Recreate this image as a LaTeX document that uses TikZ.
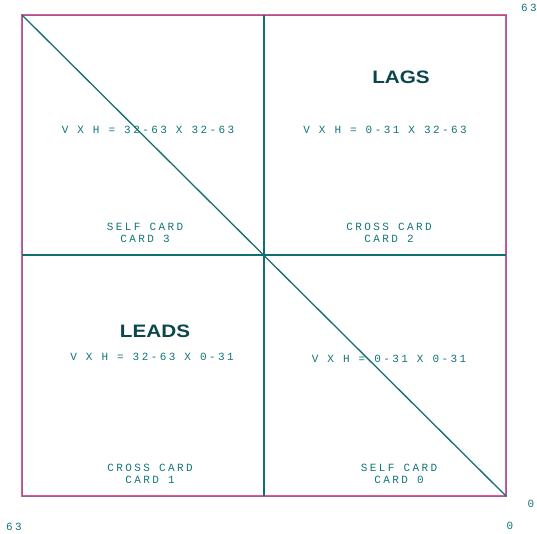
\documentclass[tikz,border=0pt]{standalone}
\usepackage{fontspec}
\setmainfont{Liberation Sans}
\newfontfamily\monof[LetterSpace=22]{Liberation Mono}
\definecolor{tl}{RGB}{20,130,135}
\definecolor{pk}{RGB}{235,90,130}
\definecolor{dk}{RGB}{10,70,75}
\definecolor{fr}{RGB}{150,90,160}
\begin{document}
\begin{tikzpicture}[x=1pt,y=-1pt,
  lbl/.style={font=\monof\fontsize{11}{12.5}\selectfont, text=tl!90!black, inner sep=0pt, align=center},
  big/.style={font=\bfseries\fontsize{18}{20}\selectfont, text=dk, inner sep=0pt, xscale=1.15},
  frame/.style={draw=pk, line width=1.8pt},
  inner/.style={draw=tl!85!black, line width=1.3pt}]
\useasboundingbox (0,0) rectangle (537,533);
\coordinate (tl) at (22,15);
\coordinate (tr) at (506,15);
\coordinate (bl) at (22,496);
\coordinate (br) at (506,496);
\coordinate (tm) at (264,15);
\coordinate (bm) at (264,496);
\coordinate (lm) at (22,255);
\coordinate (rm) at (506,255);
\draw[frame] (tl) rectangle (br);
\draw[draw=fr, line width=0.5pt] (tl) rectangle (br);
\draw[inner] (tm) -- (bm);
\draw[inner] (lm) -- (rm);
\draw[inner] (tl) -- (br);
\node[big] (lags) at (401,77) {LAGS};
\node[big] (leads) at (155,331) {LEADS};
\node[lbl] (q3) at (148,130) {V X H = 32-63 X 32-63};
\node[lbl] (q2) at (385,130) {V X H = 0-31 X 32-63};
\node[lbl] (q1) at (152,357) {V X H = 32-63 X 0-31};
\node[lbl] (q0) at (389,359) {V X H = 0-31 X 0-31};
\node[lbl] (c3) at (145,233) {SELF CARD\\CARD 3};
\node[lbl] (c2) at (389,233) {CROSS CARD\\CARD 2};
\node[lbl] (c1) at (150,474) {CROSS CARD\\CARD 1};
\node[lbl] (c0) at (399,474) {SELF CARD\\CARD 0};
\node[lbl] (n63) at (14,527) {63};
\node[lbl] (n0b) at (510,526) {0};
\node[lbl] (n0r) at (531,504) {0};
\node[lbl, anchor=east] (n63t) at (537,8) {63};
\end{tikzpicture}
\end{document}
